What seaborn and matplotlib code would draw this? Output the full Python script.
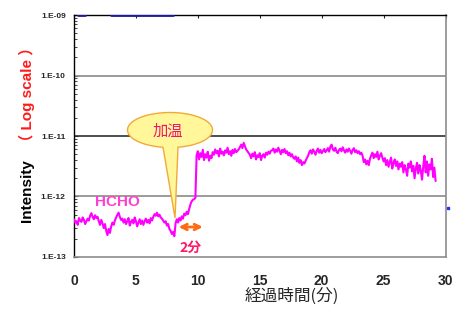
import numpy as np
import pandas as pd
import seaborn as sns
import matplotlib.pyplot as plt
from matplotlib.path import Path
from matplotlib.patches import PathPatch

# HCHO signal, one reading every 0.1 min from 0.0 min, values in units of 1e-13
hcho_1e13 = [
    4.2, 3.7, 3.9, 3.4, 4.4, 4.0, 3.8, 4.5, 4.1, 3.5, 3.9, 4.3, 4.0,
    4.8, 5.3, 4.6, 4.2, 4.9, 4.4, 4.6,
    3.9, 3.4, 4.1, 3.6, 3.0, 3.5, 2.7, 2.3, 2.9, 2.5, 3.2, 3.7, 3.4, 4.0,
    4.5, 5.0, 5.4, 4.6, 4.1, 4.3,
    3.7, 4.2, 3.5, 3.9, 4.4, 3.3, 3.8, 4.1, 3.6, 4.5, 3.9, 3.2, 3.7, 4.2,
    3.5, 4.0, 3.4, 3.9, 4.3, 3.7, 4.1, 3.6, 4.4, 4.0,
    4.6, 5.1, 4.8, 5.4, 4.7, 5.0, 4.5, 4.3,
    4.0, 3.7, 3.9, 3.3, 3.5, 2.9, 2.7, 2.4, 2.6, 2.2,
    3.6, 4.2, 3.7, 4.4, 4.0, 4.7, 4.3, 5.2, 4.9, 5.6, 5.1, 6.2, 7.4, 8.3, 8.8, 9.1, 9.4,
    48, 56, 41, 52, 45, 59, 40, 50, 44, 55, 39, 47, 43,
    54, 49, 60, 52, 57, 46, 62, 51, 55, 48, 58, 53, 64, 50, 56, 47, 59, 52, 61, 54, 57, 60,
    66, 72, 63, 77, 68, 60, 56, 52,
    49, 43, 51, 46, 54, 41, 48, 45, 52, 40, 47, 50, 44, 53, 49, 55, 51, 57,
    58, 62, 53, 60, 55, 64, 57, 50, 59, 54, 61, 52, 56, 48, 53, 46, 50, 44,
    42, 46, 38, 44, 36, 40, 33, 37, 35, 39, 43, 47,
    54, 58, 51, 60, 55, 49, 57, 62, 53, 59, 52, 56, 61, 54, 58, 63, 55, 67, 72, 60,
    57, 64, 55, 52, 59, 62, 56, 65, 58, 53, 60, 55, 62, 57, 51, 59, 63, 54, 58, 52,
    56, 50, 53, 47,
    37, 41, 34, 39, 33, 42,
    48, 53, 43, 50, 45, 55, 41, 47, 52, 44,
    38, 43, 33, 40, 31, 37, 44, 29, 36, 41, 32, 38, 28, 35,
    31, 37, 25, 33, 28, 22, 35, 30, 38, 26, 32, 20, 29, 36, 24, 33, 27, 19, 31, 47,
    25, 38, 22, 34, 28, 42, 21, 30, 18,
]
t_min = np.round(np.arange(len(hcho_1e13)) * 0.1, 1)

# second (blue) trace, sits on the top edge
blue_t = [0.3, 0.9, 0.9, 3.0, 8.0]
blue_v = [1e-9, 1e-9, np.nan, 1e-9, 1e-9]

xticks = [0, 5, 10, 15, 20, 25, 30]
yticks = [1e-13, 1e-12, 1e-11, 1e-10, 1e-9]
ytick_labels = ['1.E-13', '1.E-12', '1.E-11', '1.E-10', '1.E-09']

df = pd.DataFrame({'t': t_min, 'I': np.array(hcho_1e13) * 1e-13})

sns.set_style('white')
plt.rcParams['font.family'] = ['Liberation Sans', 'Noto Sans CJK JP', 'DejaVu Sans']

fig = plt.figure(figsize=(4.67, 3.2), dpi=100)
ax = fig.add_axes([0.1585, 0.197, 0.7955, 0.756])

# decade grid lines
ax.axhline(1e-10, color='#8a8a8a', lw=1.2, zorder=1)
ax.axhline(1e-11, color='#303030', lw=1.2, zorder=1)
ax.axhline(1e-12, color='#8a8a8a', lw=1.2, zorder=1)

sns.lineplot(data=df, x='t', y='I', color='#ff00ff', lw=1.5, ax=ax, zorder=3)
ax.plot(blue_t, blue_v, color='#1a1aa8', lw=2, zorder=3)
ax.plot([30.2], [6.5e-13], 's', color='#2030ff', ms=1.5, clip_on=False)

ax.set_yscale('log')
ax.set_xlim(0, 30)
ax.set_ylim(1e-13, 1e-9)
ax.set_xticks(xticks)
ax.set_xticklabels([str(v) for v in xticks], fontsize=10, fontweight='bold')
ax.set_yticks(yticks)
ax.set_yticklabels(ytick_labels, fontsize=6, fontweight='bold')
ax.tick_params(axis='y', which='major', direction='in', length=3, width=0.8, pad=6, left=True)
ax.tick_params(axis='y', which='minor', direction='in', length=2, width=0.6, left=True)
ax.tick_params(axis='x', which='major', bottom=False, top=True, direction='in', length=2, pad=12)
ax.set_xlabel('')
ax.set_ylabel('')

for side in ['left', 'top']:
    ax.spines[side].set_color('black')
    ax.spines[side].set_linewidth(1.0)
for side in ['right', 'bottom']:
    ax.spines[side].set_color('#8c8c8c')
    ax.spines[side].set_linewidth(1.2)

# y label in two colours
fig.text(0.058, 0.306, 'Intensity', rotation=90, ha='center', va='bottom',
         fontsize=11, fontweight='bold', color='black')
fig.text(0.058, 0.535, '（ Log scale ）', rotation=90, ha='center', va='bottom',
         fontsize=11, fontweight='bold', color='#ff1a1a')
fig.text(0.625, 0.075, '経過時間(分)', ha='center', va='center', fontsize=12,
         family=['Noto Sans CJK JP', 'DejaVu Sans'])

ax.text(3.5, 8.0e-13, 'HCHO', color='#ff3fcf', fontsize=11, fontweight='bold',
        ha='center', va='center', zorder=5)

# callout bubble (pixel geometry converted to axes fraction)
def to_ax(px, py):
    return ((px - 74) / 371.5, (257 - py) / 242)

cx, cy, a, b = 170, 130, 42.5, 17.5
phi = np.linspace(np.arccos(-7 / a), np.arccos(8 / a) + 2 * np.pi, 120)
pts = [to_ax(cx + a * np.cos(p), cy + b * np.sin(p)) for p in phi]
pts.append(to_ax(175, 218))
pts.append(pts[0])
bubble = PathPatch(Path(pts), facecolor='#fff79a', edgecolor='#f2a93b', lw=1,
                   transform=ax.transAxes, zorder=6)
ax.add_patch(bubble)
ax.text(*to_ax(168, 131), '加温', transform=ax.transAxes, ha='center', va='center',
        fontsize=11, color='#f0146e', family=['Noto Sans CJK JP'], zorder=7)

ax.annotate('', xy=(10.4, 3.13e-13), xytext=(8.45, 3.13e-13),
            arrowprops=dict(arrowstyle='<->', color='#ff6a13', lw=2,
                            mutation_scale=10, shrinkA=0, shrinkB=0), zorder=7)
ax.text(*to_ax(191, 248), '2分', transform=ax.transAxes, ha='center', va='center',
        fontsize=10, fontweight='bold', color='#ff1a66',
        family=['Noto Sans CJK JP'], zorder=7)

fig.savefig('out.png', dpi=100)
